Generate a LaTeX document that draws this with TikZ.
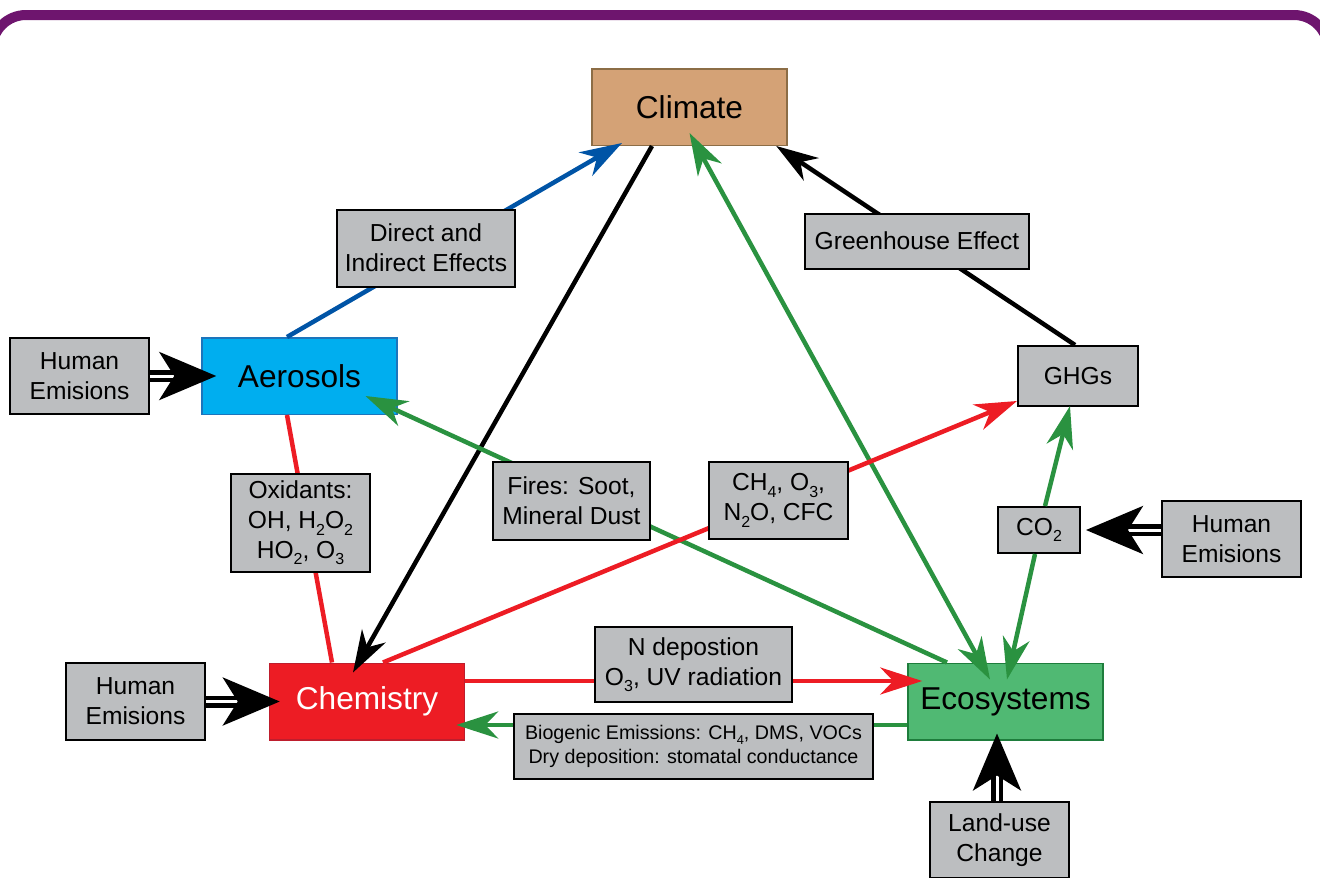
\documentclass[tikz,border=0pt]{standalone}
\usepackage{fontspec}
\usepackage{graphicx}
\setmainfont{Liberation Sans}
\usetikzlibrary{arrows.meta,calc}

\definecolor{frame}{RGB}{110,21,110}
\definecolor{climfill}{RGB}{212,162,118}
\definecolor{climline}{RGB}{140,109,70}
\definecolor{aerofill}{RGB}{0,174,239}
\definecolor{aeroline}{RGB}{28,117,188}
\definecolor{chemfill}{RGB}{237,28,36}
\definecolor{chemline}{RGB}{190,30,45}
\definecolor{ecofill}{RGB}{80,185,115}
\definecolor{ecoline}{RGB}{30,125,60}
\definecolor{labgrey}{RGB}{188,190,192}
\definecolor{linkblue}{RGB}{0,84,166}
\definecolor{linkred}{RGB}{237,28,36}
\definecolor{linkgreen}{RGB}{42,146,64}

\newcommand{\lowsub}[1]{\raisebox{-0.5ex}{\scalebox{0.65}{#1}}}

\begin{document}
\begin{tikzpicture}[x=0.02cm,y=-0.02cm,
    mainbox/.style={draw, line width=0.03cm, inner sep=0pt, minimum width=3.9cm,
      minimum height=1.53cm, font=\fontsize{18}{22}\selectfont},
    labelbox/.style={draw=black, fill=labgrey, line width=0.04cm, inner sep=0pt,
      align=center, font=\fontsize{14}{17}\selectfont},
    link/.style={line width=0.09cm, -{Stealth[length=0.84cm,width=0.54cm,inset=0.26cm]}},
    fatlink/.style={draw=black, double=white, line width=0.09cm, double distance=0.06cm,
      -{Stealth[length=1.14cm,width=0.96cm,inset=0.3cm]}}]

    \useasboundingbox (0,0) rectangle (1320,877);
    \clip (0,0) rectangle (1320,877);
    \draw[frame, line width=0.2cm, rounded corners=0.68cm] (-8,15) rectangle (1328,950);

    % main boxes
    \node[mainbox, draw=climline, fill=climfill] (clim) at (689.5,107) {Climate};
    \node[mainbox, draw=aeroline, fill=aerofill] (aero) at (299.5,376) {Aerosols};
    \node[mainbox, draw=chemline, fill=chemfill, text=white] (chem) at (367,701.5) {Chemistry};
    \node[mainbox, draw=ecoline, fill=ecofill] (eco) at (1005.5,701.5) {Ecosystems};

    \node[labelbox, minimum width=2.4cm, minimum height=1.2cm] (ghg) at (1078,376) {GHGs};
    \node[labelbox, minimum width=1.64cm, minimum height=0.92cm] (co2) at (1039,530) {CO\lowsub{2}};

    \node[labelbox, minimum width=2.78cm, minimum height=1.52cm] (hum1) at (79.5,376) {Human\\Emisions};
    \node[labelbox, minimum width=2.78cm, minimum height=1.54cm] (hum2) at (135.5,701.5) {Human\\Emisions};
    \node[labelbox, minimum width=2.78cm, minimum height=1.52cm] (hum3) at (1231.5,539) {Human\\Emisions};
    \node[labelbox, minimum width=2.78cm, minimum height=1.52cm] (land) at (999.5,840) {Land-use\\Change};

    % connectors
    \draw[link, linkblue] ($(aero.north)+(-12.5,0)$) -- ($(clim.south)+(-67.5,-3)$);
    \draw[link, black] ($(clim.south)+(-37.5,0)$) -- ($(chem.north)+(-14,10)$);
    \draw[link, linkgreen, {Stealth[length=0.84cm,width=0.54cm,inset=0.26cm]}-{Stealth[length=0.84cm,width=0.54cm,inset=0.26cm]}]
      ($(clim.south)+(0,-13)$) -- ($(eco.north)+(-15.5,17)$);
    \draw[link, linkgreen] ($(eco.north)+(-58.5,0)$) -- ($(aero.south)+(66,-19)$);
    \draw[line width=0.09cm, linkred] ($(aero.south)+(-12.5,0)$) -- ($(chem.north)+(-35,0)$);
    \draw[link, linkred] ($(chem.north)+(16,0)$) -- ($(ghg.south west)+(0,-6)$);
    \draw[link, linkred] ($(chem.east)+(0,-20.5)$) -- ($(eco.west)+(15,-20.5)$);
    \draw[link, linkgreen] ($(eco.west)+(0,23.5)$) -- ($(chem.east)+(-9,23.5)$);
    \draw[link, black] ($(ghg.north)+(-3,0)$) -- ($(clim.south east)+(-11.5,0)$);
    \draw[link, linkgreen] ($(co2.north)+(6,0)$) -- ($(ghg.south)+(-8,-1)$);
    \draw[link, linkgreen] ($(co2.south)+(-4,0)$) -- ($(eco.north)+(1.5,17)$);

    \draw[fatlink] (hum1.east) -- ($(aero.west)+(15,0)$);
    \draw[fatlink] (hum2.east) -- ($(chem.west)+(11,0)$);
    \draw[fatlink] ($(hum3.west)+(0,-9)$) -- ($(co2.east)+(5,0)$);
    \draw[fatlink] ($(land.north)+(-2.5,0)$) -- ($(eco.south)+(-8.5,-7)$);

    % labels on the connectors
    \node[labelbox, minimum width=3.56cm, minimum height=1.54cm] (direct) at (426,248) {Direct and\\Indirect Effects};
    \node[labelbox, minimum width=4.48cm, minimum height=1.1cm] (green) at (917,241) {Greenhouse Effect};
    \node[labelbox, minimum width=2.78cm, minimum height=1.96cm] (oxid) at (300.5,523) {Oxidants:\\OH, H\lowsub{2}O\lowsub{2}\\HO\lowsub{2}, O\lowsub{3}};
    \node[labelbox, minimum width=3.14cm, minimum height=1.56cm] (fires) at (571.5,501) {Fires: Soot,\\Mineral Dust};
    \node[labelbox, minimum width=2.78cm, minimum height=1.54cm] (gases) at (778.5,500.5) {CH\lowsub{4}, O\lowsub{3},\\N\lowsub{2}O, CFC};
    \node[labelbox, minimum width=3.94cm, minimum height=1.5cm] (ndep) at (693.5,664.5) {N depostion\\O\lowsub{3}, UV radiation};
    \node[labelbox, minimum width=7.18cm, minimum height=1.3cm, font=\fontsize{11.2}{13.6}\selectfont] (biog) at (693.5,746.5)
      {Biogenic Emissions: CH\lowsub{4}, DMS, VOCs\\Dry deposition: stomatal conductance};
\end{tikzpicture}
\end{document}
